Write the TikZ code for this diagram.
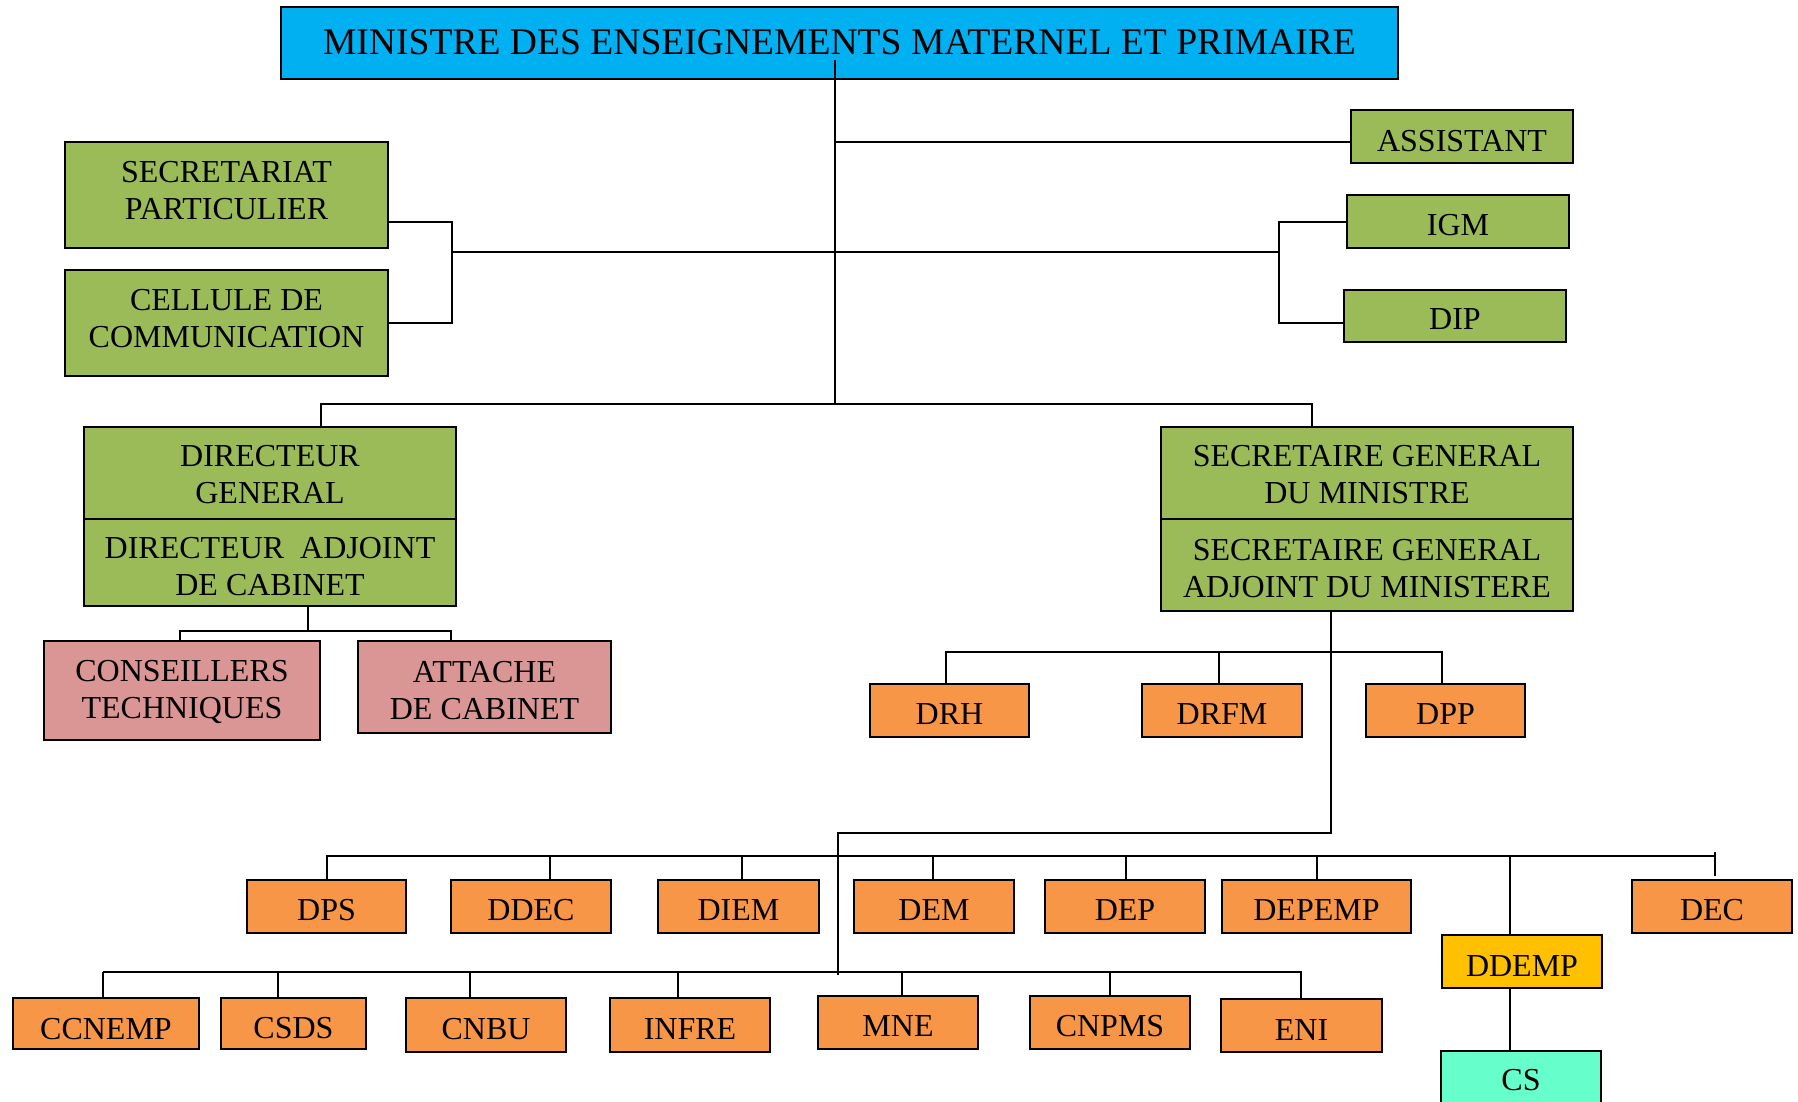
\documentclass[tikz,border=0pt]{standalone}
\usepackage{fontspec}
\setmainfont{Liberation Serif}
\definecolor{cyanb}{HTML}{00B0F0}
\definecolor{greenb}{HTML}{9BBB59}
\definecolor{pinkb}{HTML}{D99694}
\definecolor{orangeb}{HTML}{F79646}
\definecolor{goldb}{HTML}{FFC000}
\definecolor{aquab}{HTML}{66FFCC}
\tikzset{
  ob/.style={draw=black, line width=1.2pt, inner sep=0pt},
  lbl/.style={inner sep=0pt, align=center, text=black, font=\fontsize{16}{18.5}\selectfont},
  conn/.style={draw=black, line width=1pt},
}
% name, x1, y1, x2, y2, fill, text shift, text
\newcommand{\orgbox}[8]{\node[ob, fill=#6, minimum width={(#4-#2)*0.5pt}, minimum height={(#5-#3)*0.5pt},
  label={[lbl, yshift=#7]center:{#8}}] (#1) at ({(#2+#4)/2},{(#3+#5)/2}) {};}
\begin{document}
\begin{tikzpicture}[x=0.5pt,y=-0.5pt]
\fill[white] (0,0) rectangle (1798,1102);
\useasboundingbox (0,0) rectangle (1798,1102);
% boxes
\orgbox{title}{281}{7}{1398}{79}{cyanb}{0.6pt}{\fontsize{18.8}{21}\selectfont MINISTRE DES ENSEIGNEMENTS MATERNEL ET PRIMAIRE}
\orgbox{assist}{1351}{110}{1573}{163}{greenb}{-2.1pt}{ASSISTANT}
\orgbox{secr}{65}{142}{388}{248}{greenb}{2.3pt}{SECRETARIAT\\PARTICULIER}
\orgbox{cell}{65}{270}{388}{376}{greenb}{2.3pt}{CELLULE DE\\COMMUNICATION}
\orgbox{igm}{1347}{195}{1569}{248}{greenb}{-1.7pt}{IGM}
\orgbox{dip}{1344}{290}{1566}{342}{greenb}{-1.7pt}{DIP}
\orgbox{dga}{84}{427}{456}{519}{greenb}{-0.8pt}{DIRECTEUR\\GENERAL}
\orgbox{dgb}{84}{519}{456}{606}{greenb}{-2.2pt}{DIRECTEUR~ ADJOINT\\DE CABINET}
\orgbox{sga}{1161}{427}{1573}{519}{greenb}{-0.8pt}{SECRETAIRE GENERAL\\DU MINISTRE}
\orgbox{sgb}{1161}{519}{1573}{611}{greenb}{-1.7pt}{SECRETAIRE GENERAL\\ADJOINT DU MINISTERE}
\orgbox{cons}{44}{641}{320}{740}{pinkb}{-0.8pt}{CONSEILLERS\\TECHNIQUES}
\orgbox{att}{358}{641}{611}{733}{pinkb}{-1.7pt}{ATTACHE\\DE CABINET}
\orgbox{drh}{870}{684}{1029}{737}{orangeb}{-1.7pt}{DRH}
\orgbox{drfm}{1142}{684}{1302}{737}{orangeb}{-1.7pt}{DRFM}
\orgbox{dpp}{1366}{684}{1525}{737}{orangeb}{-1.7pt}{DPP}
\orgbox{dps}{247}{880}{406}{933}{orangeb}{-1.7pt}{DPS}
\orgbox{ddec}{451}{880}{611}{933}{orangeb}{-1.7pt}{DDEC}
\orgbox{diem}{658}{880}{819}{933}{orangeb}{-1.7pt}{DIEM}
\orgbox{dem}{854}{880}{1014}{933}{orangeb}{-1.7pt}{DEM}
\orgbox{dep}{1045}{880}{1205}{933}{orangeb}{-1.7pt}{DEP}
\orgbox{depemp}{1222}{880}{1411}{933}{orangeb}{-1.7pt}{DEPEMP}
\orgbox{dec}{1632}{880}{1792}{933}{orangeb}{-1.7pt}{DEC}
\orgbox{ddemp}{1442}{935}{1602}{988}{goldb}{-2.2pt}{DDEMP}
\orgbox{cs}{1441}{1051}{1601}{1121}{aquab}{3pt}{CS}
\orgbox{ccnemp}{13}{998}{199}{1049}{orangeb}{-2.6pt}{CCNEMP}
\orgbox{csds}{221}{998}{366}{1049}{orangeb}{-2.3pt}{CSDS}
\orgbox{cnbu}{406}{998}{566}{1052}{orangeb}{-2.2pt}{CNBU}
\orgbox{infre}{610}{998}{770}{1052}{orangeb}{-2.2pt}{INFRE}
\orgbox{mne}{818}{996}{978}{1049}{orangeb}{-1.7pt}{MNE}
\orgbox{cnpms}{1030}{996}{1190}{1049}{orangeb}{-1.7pt}{CNPMS}
\orgbox{eni}{1221}{999}{1382}{1052}{orangeb}{-2.2pt}{ENI}
% connector points
\coordinate (t0) at (835,60);
\coordinate (t1) at (835,404);
% connectors
\draw[conn] (t0) -- (t1);
\draw[conn] (t0 |- 0,142) -- (assist.west |- 0,142);
\draw[conn] (secr.east |- 0,222) -- (452,222) -- (452,323) -- (cell.east |- 0,323);
\draw[conn] (452,252) -- (1279,252);
\draw[conn] (igm.west |- 0,222) -- (1279,222) -- (1279,323) -- (dip.west |- 0,323);
\draw[conn] (dga.north -| 321,0) -- (321,404) -- (1312,404) -- (sga.north -| 1312,0);
\draw[conn] (dgb.south -| 308,0) -- (308,631);
\draw[conn] (cons.north -| 180,0) -- (180,631) -- (451,631) -- (att.north -| 451,0);
\draw[conn] (sgb.south -| 1331,0) -- (1331,833) -- (838,833) -- (838,975);
\draw[conn] (drh.north -| 946,0) -- (946,652) -- (1442,652) -- (dpp.north -| 1442,0);
\draw[conn] (drfm.north -| 1219,0) -- (1219,652);
\draw[conn] (dps.north -| 327,0) -- (327,856) -- (1715,856);
\draw[conn] (ddec.north -| 550,0) -- (550,856);
\draw[conn] (diem.north -| 742,0) -- (742,856);
\draw[conn] (dem.north -| 933,0) -- (933,856);
\draw[conn] (dep.north -| 1126,0) -- (1126,856);
\draw[conn] (depemp.north -| 1317,0) -- (1317,856);
\draw[conn] (ddemp.north -| 1510,0) -- (1510,856);
\draw[conn] ([yshift=1.5pt]dec.north -| 1715,0) -- (1715,852);
\draw[conn] (ddemp.south -| 1510,0) -- (cs.north -| 1510,0);
\draw[conn] (103,972) -- (1302,972);
\draw[conn] (ccnemp.north -| 103,0) -- (103,972);
\draw[conn] (csds.north -| 278,0) -- (278,972);
\draw[conn] (cnbu.north -| 470,0) -- (470,972);
\draw[conn] (infre.north -| 678,0) -- (678,972);
\draw[conn] (mne.north -| 902,0) -- (902,972);
\draw[conn] (cnpms.north -| 1110,0) -- (1110,972);
\draw[conn] (eni.north -| 1301,0) -- (1301,972);
\end{tikzpicture}
\end{document}
